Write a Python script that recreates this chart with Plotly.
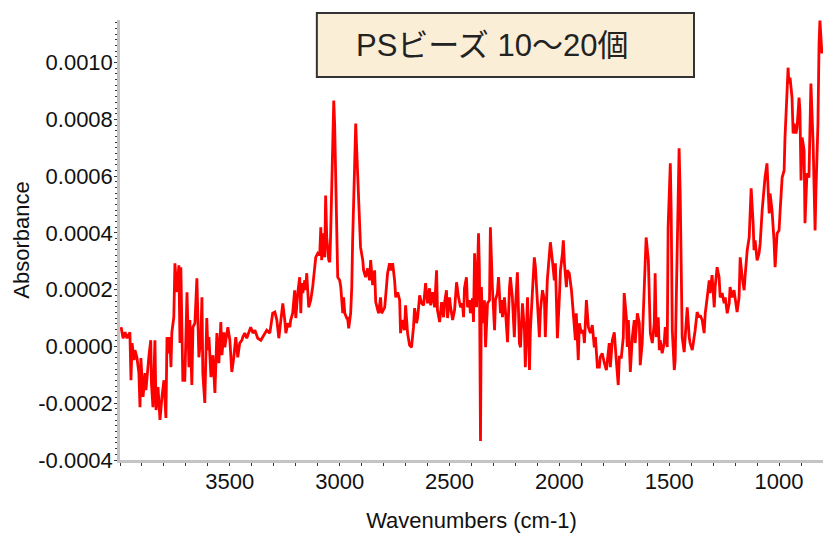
import plotly.graph_objects as go

wavenumber = [
    3995, 3986, 3977, 3968, 3955, 3950, 3945, 3936, 3932, 3923, 3914, 3909, 3905, 3895, 3886, 3882,
    3868, 3860, 3857, 3850, 3841, 3836, 3827, 3818, 3809, 3800, 3791, 3786, 3777, 3773, 3768, 3764,
    3755, 3750, 3741, 3732, 3727, 3723, 3714, 3705, 3700, 3695, 3686, 3682, 3673, 3668, 3659, 3650,
    3641, 3632, 3627, 3623, 3614, 3605, 3600, 3595, 3586, 3577, 3568, 3559, 3550, 3541, 3536, 3527,
    3523, 3509, 3500, 3491, 3482, 3473, 3464, 3455, 3445,
    3441, 3432, 3423, 3405, 3395, 3386, 3373, 3359, 3341, 3332, 3318, 3305, 3295, 3286, 3277, 3268,
    3259, 3250, 3245, 3236, 3227, 3223, 3214, 3205, 3200, 3191, 3182, 3177, 3173, 3168, 3159, 3155,
    3150, 3141, 3132, 3123, 3114, 3109, 3100, 3091, 3086, 3082, 3077, 3068, 3064, 3059, 3050, 3045,
    3041, 3032, 3027, 3023, 3014, 3009, 3000, 2995, 2986, 2982, 2977, 2968, 2964, 2959, 2950, 2945,
    2941, 2932, 2927, 2923, 2914, 2909, 2905, 2895,
    2891, 2882, 2873, 2864, 2859, 2850, 2841, 2836, 2823, 2814, 2809, 2795, 2791, 2782, 2773, 2768,
    2759, 2750, 2745, 2736, 2727, 2723, 2714, 2705, 2700, 2691, 2682, 2673, 2664, 2659, 2650, 2645,
    2636, 2627, 2618, 2609, 2600, 2591, 2586, 2577, 2568, 2559, 2555, 2545, 2536, 2527, 2523, 2514,
    2509, 2500, 2495, 2486, 2477, 2468, 2459, 2450, 2441, 2436, 2432, 2423, 2418, 2409, 2405, 2395,
    2391, 2386, 2377, 2373, 2368, 2364, 2359, 2355, 2350,
    2341, 2336, 2327, 2318, 2314, 2305, 2295, 2291, 2282, 2277, 2268, 2264, 2259, 2250, 2245, 2236,
    2227, 2223, 2214, 2205, 2200, 2191, 2182, 2177, 2168, 2159, 2155, 2145, 2136, 2132, 2123, 2114,
    2109, 2100, 2091, 2086, 2077, 2068, 2064, 2055, 2045, 2041, 2032, 2023, 2018, 2009, 2000, 1995,
    1986, 1982, 1977, 1968, 1964, 1955, 1945, 1936, 1927, 1923, 1914, 1909, 1900, 1891, 1886, 1877,
    1868, 1859, 1850, 1841, 1836, 1827,
    1818, 1814, 1805, 1795, 1786, 1773, 1768, 1759, 1750, 1741, 1732, 1727, 1718, 1709, 1705, 1695,
    1691, 1686, 1677, 1668, 1659, 1655, 1645, 1636, 1632, 1623, 1614, 1609, 1605, 1595, 1591, 1586,
    1577, 1568, 1564, 1559, 1550, 1545, 1541, 1532, 1523, 1518, 1509, 1505, 1495, 1491, 1486, 1477,
    1473, 1468, 1459, 1455, 1450, 1445, 1441, 1432, 1427, 1418, 1409, 1405, 1395, 1386, 1382, 1373,
    1364, 1359, 1350, 1341, 1336, 1327, 1318, 1314, 1305, 1295, 1291, 1282, 1273,
    1268, 1259, 1250, 1245, 1236, 1227, 1223, 1214, 1205, 1200, 1191, 1182, 1177, 1168, 1159, 1155,
    1145, 1136, 1132, 1127, 1118, 1114, 1109, 1100, 1091, 1086, 1077, 1068, 1064, 1055, 1045, 1041,
    1032, 1023, 1018, 1009, 1000, 995, 986, 977, 973, 964, 959, 955, 950, 941, 936, 932,
    923, 918, 909, 905, 900, 895, 886, 882, 873, 864, 859, 855, 845, 841, 836, 832,
    827, 823, 818, 814, 805,
]

absorbance = [
    0.000068, 0.000029, 0.000050, 0.000029, 0.000050, -0.000119, 0.000012, -0.000048, -0.000013, -0.000038, -0.000094, -0.000214, -0.000041, -0.000178, -0.000094, -0.000154,
    -0.000031, 0.000022, -0.000129, -0.000214, 0.000022, -0.000224, -0.000143, -0.000259, -0.000178, -0.000119, -0.000252, 0.000033, -0.000024, 0.000033, -0.000073, 0.000050,
    0.000103, 0.000293, 0.000191, 0.000286, 0.000012, 0.000279, -0.000119, -0.000119, 0.000033, 0.000191, -0.000073, 0.000093, -0.000136, 0.000068, 0.000082, 0.000240,
    -0.000038, 0.000033, 0.000173, -0.000094, -0.000199, 0.000100, -0.000013, 0.000033, -0.000108, -0.000031, -0.000164, 0.000047, -0.000059, 0.000086, -0.000031, 0.000050,
    -0.000003, 0.000068, 0.000022, -0.000090, -0.000038, 0.000033, -0.000038, 0.000012, 0.000022,
    0.000033, 0.000047, 0.000029, 0.000068, 0.000047, 0.000057, 0.000029, 0.000022, 0.000047, 0.000057, 0.000047, 0.000117, 0.000121, 0.000093, 0.000029, 0.000082,
    0.000152, 0.000093, 0.000047, 0.000082, 0.000068, 0.000093, 0.000117, 0.000198, 0.000100, 0.000188, 0.000244, 0.000117, 0.000223, 0.000188, 0.000233, 0.000198,
    0.000258, 0.000138, 0.000163, 0.000209, 0.000279, 0.000314, 0.000328, 0.000321, 0.000420, 0.000304, 0.000399, 0.000314, 0.000532, 0.000385, 0.000304, 0.000297,
    0.000399, 0.000750, 0.000866, 0.000785, 0.000469, 0.000244, 0.000233, 0.000209, 0.000117, 0.000173, 0.000117, 0.000100, 0.000100, 0.000064, 0.000117, 0.000209,
    0.000374, 0.000631, 0.000785, 0.000701, 0.000525, 0.000469, 0.000349, 0.000304,
    0.000268, 0.000244, 0.000275, 0.000233, 0.000304, 0.000216, 0.000268, 0.000156, 0.000117, 0.000173, 0.000117, 0.000138, 0.000173, 0.000258, 0.000293, 0.000268,
    0.000293, 0.000233, 0.000173, 0.000191, 0.000163, 0.000047, 0.000093, 0.000057, 0.000145, 0.000047, 0.000005, -0.000003, 0.000068, 0.000135, 0.000082, 0.000103,
    0.000180, 0.000152, 0.000145, 0.000223, 0.000152, 0.000205, 0.000145, 0.000191, 0.000138, 0.000268, 0.000128, 0.000086, 0.000156, 0.000103, 0.000152, 0.000198,
    0.000100, 0.000173, 0.000138, 0.000093, 0.000128, 0.000226, 0.000173, 0.000138, 0.000152, 0.000103, 0.000205, 0.000244, 0.000138, 0.000163, 0.000117, 0.000170,
    0.000086, 0.000328, 0.000138, 0.000304, 0.000399, 0.000268, -0.000333, 0.000209, 0.000082,
    0.000163, -0.000003, 0.000152, 0.000163, 0.000420, 0.000209, 0.000057, 0.000163, 0.000188, 0.000244, 0.000117, 0.000163, 0.000103, 0.000173, 0.000121, 0.000015,
    0.000209, 0.000244, 0.000173, 0.000033, 0.000138, 0.000261, 0.000012, -0.000003, 0.000152, 0.000057, -0.000073, 0.000173, -0.000083, 0.000057, 0.000188, 0.000314,
    0.000279, 0.000173, 0.000033, 0.000128, 0.000198, 0.000163, 0.000033, 0.000233, 0.000328, 0.000367, 0.000304, 0.000233, 0.000293, 0.000029, 0.000173, 0.000268,
    0.000328, 0.000374, 0.000293, 0.000209, 0.000268, 0.000258, 0.000198, 0.000117, 0.000022, 0.000117, -0.000048, 0.000082, 0.000047, 0.000057, 0.000012, 0.000163,
    0.000068, 0.000047, 0.000075, -0.000003, 0.000033, -0.000073,
    -0.000073, -0.000038, -0.000024, -0.000059, -0.000083, 0.000012, -0.000073, 0.000022, 0.000050, -0.000048, -0.000136, -0.000038, -0.000038, 0.000033, 0.000188, 0.000103,
    -0.000002, 0.000093, -0.000090, 0.000033, 0.000093, 0.000012, 0.000117, 0.000082, -0.000066, 0.000012, 0.000188, 0.000314, 0.000384, 0.000304, 0.000198, 0.000047,
    0.000012, 0.000082, 0.000258, 0.000033, 0.000103, -0.000013, 0.000022, -0.000024, 0.000012, 0.000068, -0.000002, 0.000420, 0.000645, 0.000469, 0.000057, -0.000083,
    -0.000048, 0.000152, 0.000585, 0.000698, 0.000539, 0.000293, 0.000033, -0.000020, 0.000033, 0.000138, 0.000033, 0.000012, -0.000013, 0.000029, 0.000057, 0.000121,
    0.000103, 0.000110, 0.000093, 0.000047, 0.000117, 0.000173, 0.000233, 0.000188, 0.000251, 0.000138, 0.000209, 0.000279, 0.000244,
    0.000173, 0.000188, 0.000152, 0.000173, 0.000117, 0.000152, 0.000209, 0.000173, 0.000198, 0.000173, 0.000121, 0.000173, 0.000314, 0.000244, 0.000198, 0.000244,
    0.000339, 0.000384, 0.000479, 0.000557, 0.000434, 0.000339, 0.000374, 0.000303, 0.000328, 0.000363, 0.000479, 0.000574, 0.000595, 0.000645, 0.000469, 0.000539,
    0.000479, 0.000374, 0.000279, 0.000398, 0.000409, 0.000479, 0.000595, 0.000620, 0.000736, 0.000891, 0.000982, 0.000926, 0.000947, 0.000877, 0.000750, 0.000785,
    0.000750, 0.000771, 0.000877, 0.000831, 0.000585, 0.000736, 0.000691, 0.000434, 0.000610, 0.000595, 0.000831, 0.000926, 0.000715, 0.000550, 0.000409, 0.000550,
    0.000655, 0.000785, 0.001067, 0.001148, 0.001032,
]

x_tick_vals = [3500, 3000, 2500, 2000, 1500, 1000]
y_tick_vals = [-0.0004, -0.0002, 0.0, 0.0002, 0.0004, 0.0006, 0.0008, 0.0010]
y_tick_text = ["-0.0004", "-0.0002", "0.0000", "0.0002", "0.0004", "0.0006", "0.0008", "0.0010"]
label_text = "PSビーズ 10〜20個"

FONT = "Liberation Sans, Arial, Noto Sans CJK JP, sans-serif"

fig = go.Figure()
fig.add_trace(go.Scatter(
    x=wavenumber, y=absorbance, mode="lines",
    line=dict(color="#ff0000", width=2.8),
    showlegend=False, hoverinfo="skip",
))

axis_common = dict(
    showgrid=False, zeroline=False,
    showline=True, linecolor="#c4c4c4", linewidth=2.5,
    ticks="outside", ticklen=3, tickwidth=1, tickcolor="#333333",
    ticklabelstandoff=-3,
    tickfont=dict(family=FONT, size=22, color="#111111"),
)

fig.update_layout(
    width=823, height=533,
    margin=dict(l=120, r=0, t=20, b=73),
    paper_bgcolor="white", plot_bgcolor="white",
    xaxis=dict(
        **axis_common,
        range=[4000, 800],
        tickvals=x_tick_vals,
        minor=dict(dtick=100, ticklen=3, tickcolor="#333333", ticks="outside"),
        title=dict(text="Wavenumbers (cm-1)", font=dict(family=FONT, size=22, color="#111111"), standoff=22),
    ),
    yaxis=dict(
        **axis_common,
        range=[-0.0004, 0.00115],
        tickvals=y_tick_vals, ticktext=y_tick_text,
        minor=dict(dtick=0.00002, ticklen=2, tickcolor="#333333", ticks="outside"),
        title=dict(text="Absorbance", font=dict(family=FONT, size=22, color="#111111"), standoff=3),
    ),
    shapes=[dict(
        type="rect", xref="paper", yref="paper",
        x0=0.280, x1=0.8165, y0=0.8705, y1=1.016,
        fillcolor="#fbeed7", line=dict(color="#333333", width=2),
        layer="above",
    )],
    annotations=[dict(
        text=label_text, xref="paper", yref="paper",
        x=0.529, y=0.943, xanchor="center", yanchor="middle",
        showarrow=False,
        font=dict(family=FONT, size=31, color="#222222"),
    )],
)

fig.write_html("out.html")
